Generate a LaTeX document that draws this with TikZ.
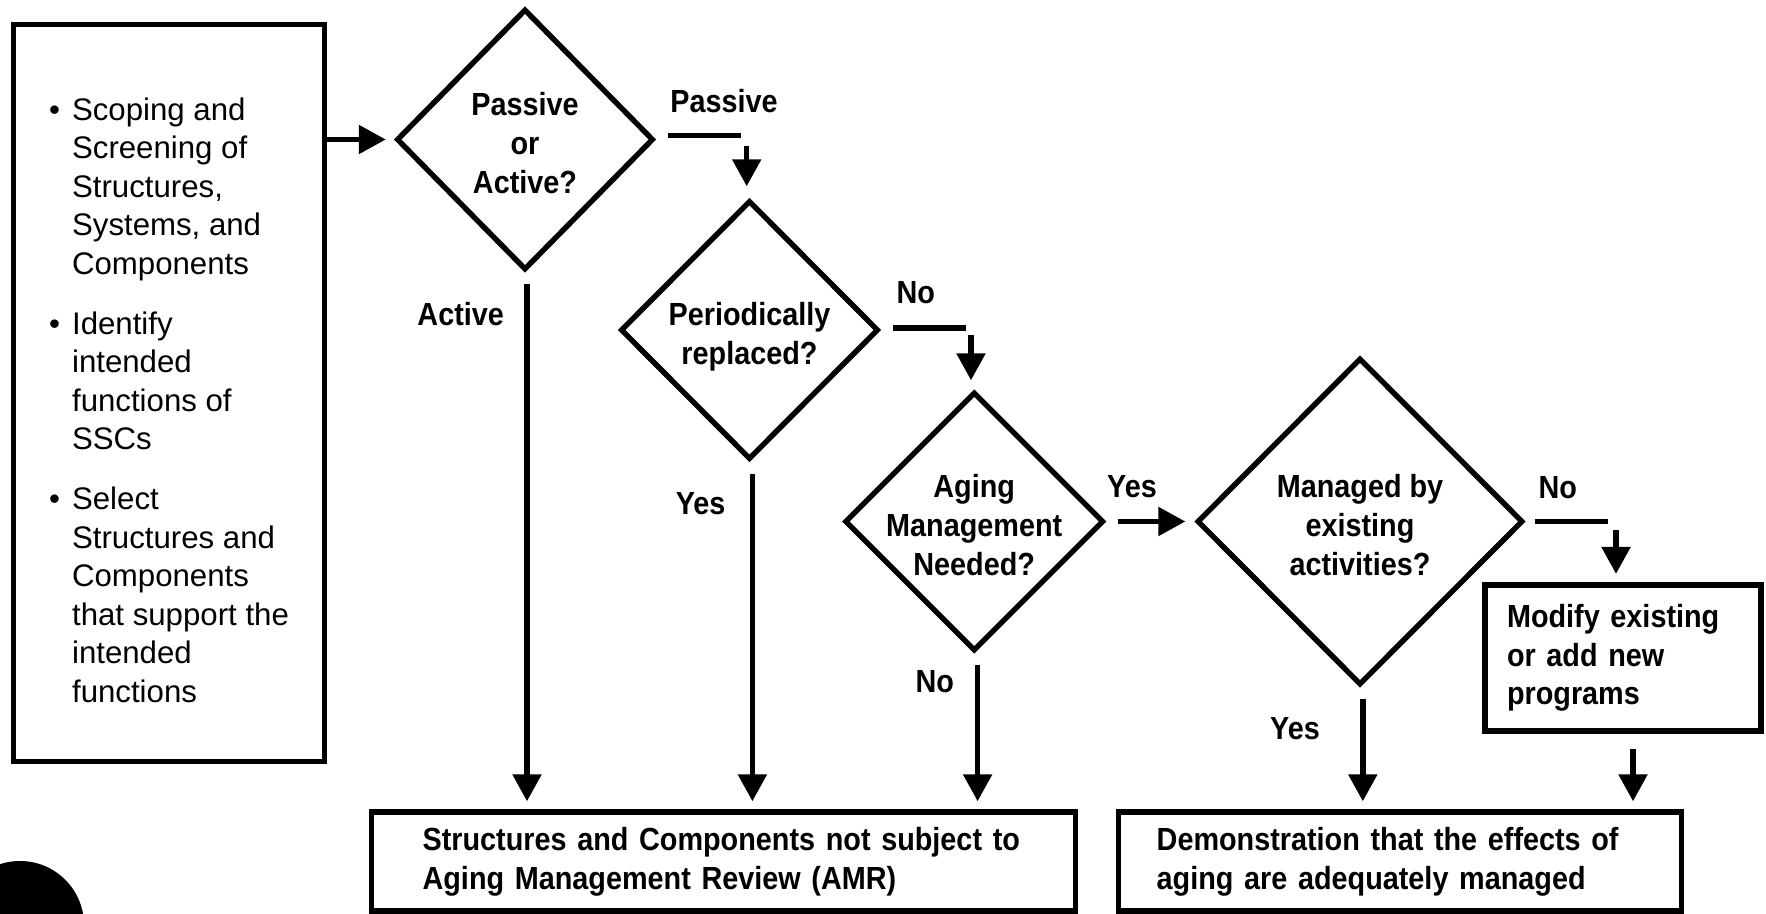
\documentclass[tikz,border=0pt]{standalone}
\usepackage{fontspec}
\setmainfont{Liberation Sans}
\newfontfamily\nbfont{Liberation Sans}[FakeStretch=0.9]
\usetikzlibrary{shapes.geometric,arrows.meta}
\newcommand\dtxt[1]{\makebox[0pt]{\raisebox{-8pt}[0pt][0pt]{\begin{tabular}{@{}c@{}}#1\end{tabular}}}}
\begin{document}
\begin{tikzpicture}[x=0.5pt,y=-0.5pt,
  lw/.style={line width=2.7pt},
  arr/.style={line width=2.7pt,-{Triangle[length=13.5pt,width=14pt]}},
  boldtxt/.style={font=\nbfont\bfseries\fontsize{16pt}{19.3pt}\selectfont},
  dia/.style={diamond,draw,line width=2.7pt,inner sep=0pt,boldtxt},
  lbl/.style={boldtxt,inner sep=0pt},
  bx/.style={rectangle,draw,line width=2.7pt,inner sep=0pt,align=left,boldtxt}]
\path[use as bounding box] (0,0) rectangle (1766,914);
\begin{scope}
  \clip (0,0) rectangle (1766,914);
  \fill[black] (20,925) circle[radius=32pt];
\end{scope}

% left box
\node[rectangle,draw,line width=2.7pt,minimum width=155.5pt,minimum height=368.3pt,
      inner sep=0pt,align=left,font=\fontsize{15.6pt}{19.3pt}\selectfont] (scope) at (169,393)
{\rule{0pt}{18.4pt}\makebox[11.5pt][l]{•}Scoping and\\
 \hspace*{11.5pt}Screening of\\
 \hspace*{11.5pt}Structures,\\
 \hspace*{11.5pt}Systems, and\\
 \hspace*{11.5pt}Components\\[10.5pt]
 \makebox[11.5pt][l]{•}Identify\\
 \hspace*{11.5pt}intended\\
 \hspace*{11.5pt}functions of\\
 \hspace*{11.5pt}SSCs\\[10.5pt]
 \makebox[11.5pt][l]{•}Select\\
 \hspace*{11.5pt}Structures and\\
 \hspace*{11.5pt}Components\\
 \hspace*{11.5pt}that support the\\
 \hspace*{11.5pt}intended\\
 \hspace*{11.5pt}functions};

% diamonds
\node[dia,minimum width=128.5pt,minimum height=130.5pt] (d1) at (525,139.5) {\dtxt{Passive\\or\\Active?}};
\node[dia,minimum width=129pt,minimum height=129.5pt] (d2) at (749.5,330) {\dtxt{Periodically\\replaced?}};
\node[dia,minimum width=129.5pt,minimum height=129.5pt] (d3) at (974.2,521.5) {\dtxt{Aging\\Management\\Needed?}};
\node[dia,minimum width=163pt,minimum height=163.5pt] (d4) at (1360,521.5) {\dtxt{Managed by\\existing\\activities?}};

% boxes
\node[bx,minimum width=138pt,minimum height=73pt,text width=116pt] (mod) at (1623,658)
  {Modify existing\\or add new\\programs};
\node[bx,minimum width=281.6pt,minimum height=49.5pt,text width=243.3pt] (demo) at (1400,861.5)
  {Demonstration that the effects of\\aging are adequately managed};
\node[bx,minimum width=352pt,minimum height=49.5pt,text width=301pt] (amr) at (723.6,861.5)
  {Structures and Components not subject to\\Aging Management Review (AMR)};

% labels
\node[lbl] (lpas) at (724,101) {Passive};
\node[lbl] (lno1) at (915.7,292.8) {No};
\node[lbl] (lyes1) at (1132,486.6) {Yes};
\node[lbl] (lno2) at (1557.7,487.7) {No};
\node[lbl] (lact) at (460.7,314) {Active};
\node[lbl] (lyes2) at (700.6,503.5) {Yes};
\node[lbl] (lno3) at (934.8,681.4) {No};
\node[lbl] (lyes3) at (1295,728.7) {Yes};

% connectors
\draw[arr,shorten >=4pt] (scope.east |- d1.west) -- (d1.west);

\coordinate (p1a) at ([xshift=5.75pt,yshift=2pt]d1.east);
\coordinate (p1b) at ([xshift=42.3pt,yshift=2pt]d1.east);
\draw[lw] (p1a) -- (p1b);
\coordinate (q1) at ([xshift=-1.4pt,yshift=26pt]d2.north);
\draw[arr,shorten >=5.75pt] (q1) -- (q1 |- d2.north);

\coordinate (p2a) at ([xshift=5.65pt,yshift=1pt]d2.east);
\coordinate (p2b) at ([xshift=42.2pt,yshift=1pt]d2.east);
\draw[lw] (p2a) -- (p2b);
\coordinate (q2) at ([xshift=-1.6pt,yshift=27pt]d3.north);
\draw[arr,shorten >=4.5pt] (q2) -- (q2 |- d3.north);

\draw[arr,shorten <=5.6pt,shorten >=4.5pt] (d3.east) -- (d4.west);

\coordinate (p3a) at ([xshift=4.4pt]d4.east);
\coordinate (p3b) at ([xshift=41pt]d4.east);
\draw[lw] (p3a) -- (p3b);
\coordinate (q3) at ([xshift=-3.5pt,yshift=26pt]mod.north);
\draw[arr,shorten >=4.2pt] (q3) -- (q3 |- mod.north);

\coordinate (q4) at ([xshift=5pt,yshift=-7.85pt]mod.south);
\draw[arr,shorten >=4pt] (q4) -- (q4 |- demo.north);

\coordinate (s4) at ([xshift=1.4pt]d4.south);
\draw[arr,shorten <=5.5pt,shorten >=4pt] (s4) -- (s4 |- demo.north);

\coordinate (s1) at ([xshift=1pt]d1.south);
\draw[arr,shorten <=5.8pt,shorten >=4pt] (s1) -- (s1 |- amr.north);
\coordinate (s2) at ([xshift=1.45pt]d2.south);
\draw[arr,shorten <=5.65pt,shorten >=4pt] (s2) -- (s2 |- amr.north);
\coordinate (s3) at ([xshift=1.7pt]d3.south);
\draw[arr,shorten <=5.5pt,shorten >=4pt] (s3) -- (s3 |- amr.north);
\end{tikzpicture}
\end{document}
